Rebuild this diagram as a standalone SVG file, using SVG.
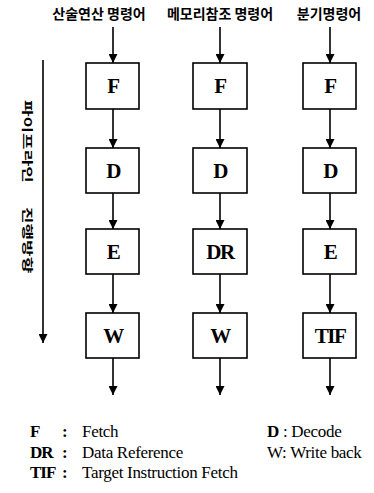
<svg xmlns="http://www.w3.org/2000/svg" width="374" height="493" viewBox="0 0 374 493">
  <defs>
    <marker id="arrow" viewBox="0 0 10 10" refX="10" refY="5" markerWidth="10" markerHeight="9" markerUnits="userSpaceOnUse" orient="auto">
      <path d="M0,0 L10,5 L0,10 Z" fill="#000"/>
    </marker>
    <style>
      .box { fill: #fff; stroke: #000; stroke-width: 1.6; }
      .lbl { font-family: "Liberation Serif", "Times New Roman", serif; font-weight: bold; font-size: 21px; letter-spacing: -1.5px; text-anchor: middle; fill: #000; }
      .head { font-family: "Noto Sans CJK KR", "Noto Sans", sans-serif; font-weight: bold; font-size: 14px; text-anchor: middle; fill: #000; }
      .side { font-family: "Noto Sans CJK KR", "Noto Sans", sans-serif; font-weight: bold; font-size: 18px; fill: #000; }
      .link { stroke: #000; stroke-width: 1.6; fill: none; marker-end: url(#arrow); }
      .key { font-family: "Liberation Serif", "Times New Roman", serif; font-size: 17px; letter-spacing: -0.3px; fill: #000; }
      .keyb { font-family: "Liberation Serif", "Times New Roman", serif; font-size: 17px; font-weight: bold; letter-spacing: -1px; fill: #000; }
    </style>
  </defs>

  <!-- column headings -->
  <text class="head" x="99" y="19">산술연산 명령어</text>
  <text class="head" x="220" y="19">메모리참조 명령어</text>
  <text class="head" x="329" y="19">분기명령어</text>

  <!-- pipeline direction -->
  <g id="direction">
    <line class="link" x1="43" y1="60" x2="43" y2="343"/>
    <text class="side" transform="translate(23,100) rotate(90) scale(1,0.62)">파이프라인</text>
    <text class="side" transform="translate(23,207) rotate(90) scale(1,0.62)">진행방향</text>
  </g>

  <!-- connectors -->
  <g id="connectors">
    <line class="link" x1="113" y1="27" x2="113" y2="63"/>
    <line class="link" x1="113" y1="109" x2="113" y2="148"/>
    <line class="link" x1="113" y1="193" x2="113" y2="229"/>
    <line class="link" x1="113" y1="274" x2="113" y2="313"/>
    <line class="link" x1="113" y1="358" x2="113" y2="395"/>

    <line class="link" x1="220" y1="27" x2="220" y2="63"/>
    <line class="link" x1="220" y1="109" x2="220" y2="148"/>
    <line class="link" x1="220" y1="193" x2="220" y2="229"/>
    <line class="link" x1="220" y1="274" x2="220" y2="313"/>
    <line class="link" x1="220" y1="358" x2="220" y2="395"/>

    <line class="link" x1="330" y1="27" x2="330" y2="63"/>
    <line class="link" x1="330" y1="109" x2="330" y2="148"/>
    <line class="link" x1="330" y1="193" x2="330" y2="229"/>
    <line class="link" x1="330" y1="274" x2="330" y2="313"/>
    <line class="link" x1="330" y1="358" x2="330" y2="395"/>
  </g>

  <!-- arithmetic instruction stages -->
  <g id="a-F"><rect class="box" x="86" y="63" width="53" height="46"/><text class="lbl" x="113" y="93">F</text></g>
  <g id="a-D"><rect class="box" x="86" y="148" width="53" height="45"/><text class="lbl" x="113" y="178">D</text></g>
  <g id="a-E"><rect class="box" x="86" y="229" width="53" height="45"/><text class="lbl" x="113" y="259">E</text></g>
  <g id="a-W"><rect class="box" x="86" y="313" width="53" height="45"/><text class="lbl" x="113" y="343">W</text></g>

  <!-- memory reference instruction stages -->
  <g id="m-F"><rect class="box" x="193" y="63" width="54" height="46"/><text class="lbl" x="220" y="93">F</text></g>
  <g id="m-D"><rect class="box" x="193" y="148" width="54" height="45"/><text class="lbl" x="220" y="178">D</text></g>
  <g id="m-DR"><rect class="box" x="193" y="229" width="54" height="45"/><text class="lbl" x="220" y="259">DR</text></g>
  <g id="m-W"><rect class="box" x="193" y="313" width="54" height="45"/><text class="lbl" x="220" y="343">W</text></g>

  <!-- branch instruction stages -->
  <g id="b-F"><rect class="box" x="303" y="63" width="53" height="46"/><text class="lbl" x="330" y="93">F</text></g>
  <g id="b-D"><rect class="box" x="303" y="148" width="53" height="45"/><text class="lbl" x="330" y="178">D</text></g>
  <g id="b-E"><rect class="box" x="303" y="229" width="53" height="45"/><text class="lbl" x="330" y="259">E</text></g>
  <g id="b-TIF"><rect class="box" x="303" y="313" width="53" height="45"/><text class="lbl" x="330" y="343">TIF</text></g>

  <!-- legend -->
  <g id="legend">
    <text class="keyb" x="30" y="437">F</text>
    <text class="keyb" x="62" y="437">:</text>
    <text class="key" x="82" y="437">Fetch</text>
    <text class="keyb" x="30" y="458">DR</text>
    <text class="keyb" x="62" y="458">:</text>
    <text class="key" x="82" y="458">Data Reference</text>
    <text class="keyb" x="30" y="478">TIF</text>
    <text class="keyb" x="62" y="478">:</text>
    <text class="key" x="82" y="478">Target Instruction Fetch</text>
    <text class="key" x="267" y="437"><tspan font-weight="bold">D</tspan> : Decode</text>
    <text class="key" x="267" y="458">W: Write back</text>
  </g>
</svg>
